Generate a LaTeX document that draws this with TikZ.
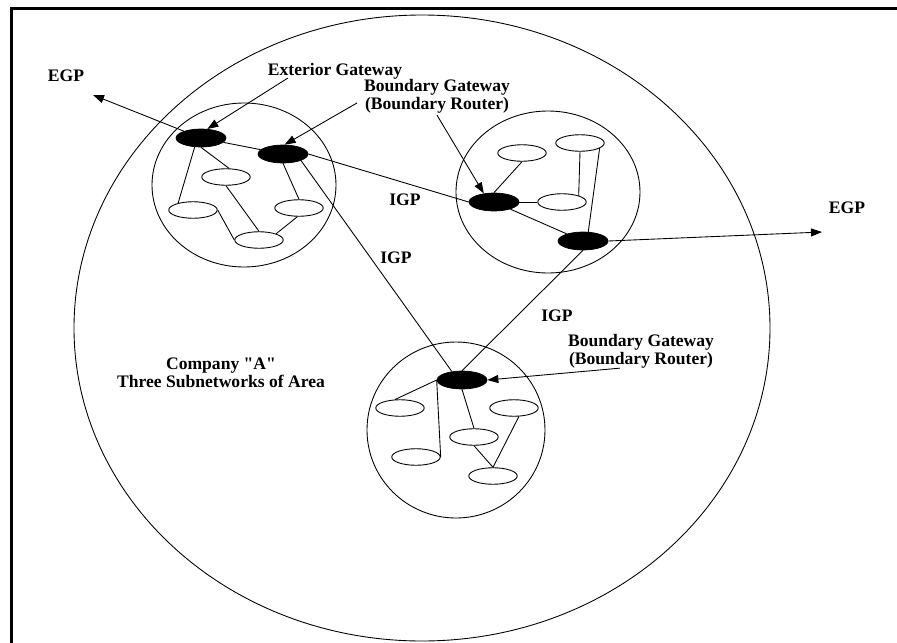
\documentclass[tikz,border=0pt]{standalone}
\usepackage{fontspec}
\setmainfont{Liberation Serif}
\usetikzlibrary{arrows.meta,calc,shapes.geometric}

\begin{document}
\begin{tikzpicture}[x=0.02cm, y=-0.02cm,
    link/.style={line width=0.5pt},
    pointer/.style={line width=0.5pt, -{Triangle[length=2.2mm,width=1.6mm]}},
    gateway/.style={ellipse, fill=black, draw=black, inner sep=0pt, minimum width=1cm, minimum height=0.36cm},
    host/.style={ellipse, draw=black, line width=0.5pt, fill=white, inner sep=0pt, minimum width=0.97cm, minimum height=0.33cm},
    lbl/.style={font=\fontsize{10}{10.3}\selectfont\bfseries, align=center, inner sep=1pt}]
    \useasboundingbox (0,0) rectangle (897,643);
    \draw[line width=1.7pt] (11.5,643) -- (11.5,8.5) -- (897,8.5);

    \draw[link] (422,328) ellipse [x radius=348, y radius=313];
    \draw[link] (244,185) ellipse [x radius=92, y radius=82];
    \draw[link] (548,192) ellipse [x radius=92, y radius=81];
    \draw[link] (456,430) ellipse [x radius=89, y radius=88];

    \node[gateway] (gwA) at (201,138) {};
    \node[gateway] (gwB) at (283,154) {};
    \node[gateway] (gwC) at (494,202) {};
    \node[gateway] (gwD) at (583,241) {};
    \node[gateway] (gwE) at (462,380) {};

    \node[host] (hA1) at (226,177) {};
    \node[host] (hA2) at (193,210) {};
    \node[host] (hA3) at (299,208) {};
    \node[host] (hA4) at (259,240) {};
    \node[host] (hB1) at (522,153) {};
    \node[host] (hB2) at (580,143) {};
    \node[host] (hB3) at (562,202) {};
    \node[host] (hC1) at (400,408) {};
    \node[host] (hC2) at (514,408) {};
    \node[host] (hC3) at (474,437) {};
    \node[host] (hC4) at (416,457) {};
    \node[host] (hC5) at (493,476) {};

    \node[lbl] (egpLeft) at (66,76) {EGP};
    \node[lbl] (egpRight) at (847,208) {EGP};
    \node[lbl] (extGw) at (335,71) {Exterior Gateway};
    \node[lbl] (bdTop) at (437,96) {Boundary Gateway\\(Boundary Router)};
    \node[lbl] (bdLow) at (641,351) {Boundary Gateway\\(Boundary Router)};
    \node[lbl] (igpA) at (405,200) {IGP};
    \node[lbl] (igpB) at (396,258) {IGP};
    \node[lbl] (igpC) at (557,316) {IGP};
    \node[lbl] (company) at (221,373) {Company \textquotedbl A\textquotedbl\\Three Subnetworks of Area};
    \coordinate (egpLend) at (93,95);
    \coordinate (egpRend) at (822,232);

    \draw[link] (gwA.-125) -- (hA2.155);
    \draw[link] (gwA.-90) -- (hA1.70);
    \draw[link] (hA1.south) -- (hA4.north);
    \draw[link] (hA2.east) -- (hA4.west);
    \draw[link] (gwB.south) -- (hA3.north);
    \draw[link] (hA3.-100) -- (hA4.20);
    \draw[link] (gwA) -- (gwB);
    \draw[pointer] (gwA) -- (egpLend);

    \draw[link] (gwB.east) -- (gwC.west);
    \draw[link] (gwB.-20) -- (gwE.140);
    \draw[link] (gwD.south) -- (gwE.north);
    \draw[pointer] (gwD.east) -- (egpRend);

    \draw[link] (gwC.north) -- (hB1.south);
    \draw[link] (gwC.east) -- (hB3.west);
    \draw[link] (hB2.south) -- (hB3.21);
    \draw[link] (hB2.-15) -- (gwD.60);
    \draw[link] (gwC) -- (gwD);

    \draw[link] (gwE.west) -- (hC1.120);
    \draw[link] (gwE.west) -- (hC4.east);
    \draw[link] (gwE.south) -- (hC3.north);
    \draw[link] (hC3.south) -- (hC5.north);
    \draw[link] (hC2.-60) -- (hC5.north);

    \draw[pointer] ($(extGw.south west)+(22,-3)$) -- (gwA.55);
    \draw[pointer] ($(bdTop.west)+(-5,7)$) -- (gwB.80);
    \draw[pointer] (bdTop.south) -- (gwC.140);
    \draw[pointer] ($(bdLow.south west)+(54,-2)$) -- (gwE.east);
\end{tikzpicture}
\end{document}
